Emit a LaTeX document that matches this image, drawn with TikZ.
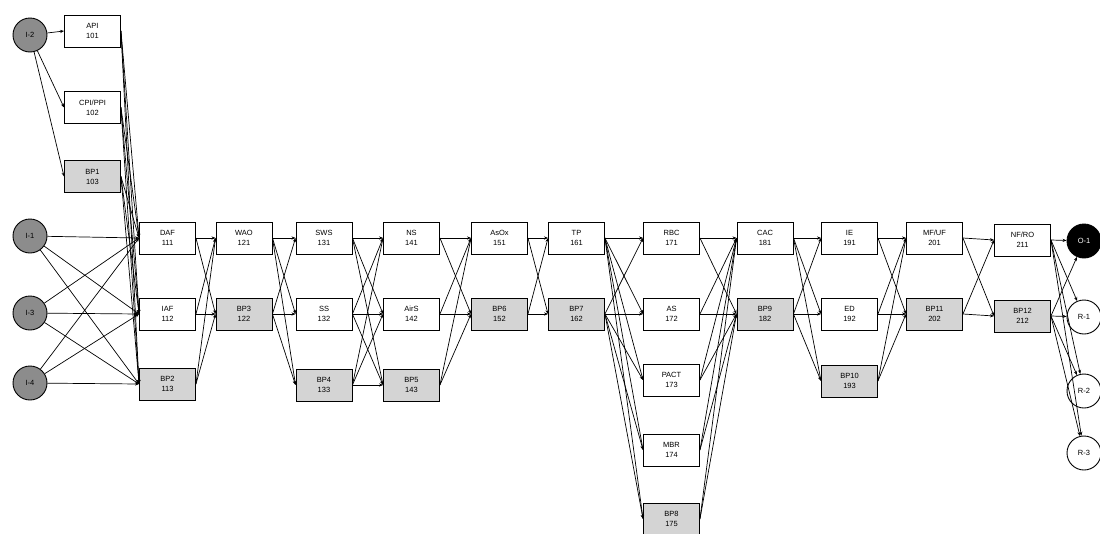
\documentclass[tikz,border=0pt]{standalone}
\usepackage{fontspec}
\setmainfont{Liberation Sans}
\usetikzlibrary{arrows.meta}
\tikzset{
  box/.style={draw=black,line width=0.9pt,fill=white,minimum width=56pt,minimum height=32pt,inner sep=1pt,align=center,font=\fontsize{7.5}{10}\selectfont},
  shbox/.style={box,fill=black!17},
  inode/.style={circle,draw=black,line width=0.9pt,fill=black!45,minimum size=34pt,inner sep=0pt,font=\fontsize{7.5}{8}\selectfont},
  onode/.style={circle,draw=black,line width=0.9pt,fill=black,text=white,minimum size=34pt,inner sep=0pt,font=\fontsize{7.5}{8}\selectfont},
  rnode/.style={circle,draw=black,line width=0.9pt,fill=white,minimum size=34pt,inner sep=0pt,font=\fontsize{7.5}{8}\selectfont},
  arr/.style={line width=0.7pt,-{Stealth[length=4pt,width=3.2pt]}}
}
\begin{document}
\begin{tikzpicture}[x=1pt,y=-1pt]
\useasboundingbox (0,0) rectangle (1100,533);
% nodes
\node[inode] (i2) at (30,35) {I-2};
\node[box] (api) at (92.5,31) {API\\101};
\node[box] (cpi) at (92.5,107.5) {CPI/PPI\\102};
\node[shbox] (bp1) at (92.5,176.5) {BP1\\103};
\node[inode] (i1) at (30,236) {I-1};
\node[inode] (i3) at (30,313) {I-3};
\node[inode] (i4) at (30,383) {I-4};
\node[box] (a111) at (167.5,238) {DAF\\111};
\node[box] (a112) at (167.5,314) {IAF\\112};
\node[shbox] (a113) at (167.5,384) {BP2\\113};
\node[box] (a121) at (244,238) {WAO\\121};
\node[shbox] (a122) at (244,314) {BP3\\122};
\node[box] (a131) at (324,238) {SWS\\131};
\node[box] (a132) at (324,314) {SS\\132};
\node[shbox] (a133) at (324,385) {BP4\\133};
\node[box] (a141) at (411.5,238) {NS\\141};
\node[box] (a142) at (411.5,314) {AirS\\142};
\node[shbox] (a143) at (411.5,385) {BP5\\143};
\node[box] (a151) at (499.5,238) {AsOx\\151};
\node[shbox] (a152) at (499.5,314) {BP6\\152};
\node[box] (a161) at (576.5,238) {TP\\161};
\node[shbox] (a162) at (576.5,314) {BP7\\162};
\node[box] (a171) at (671.5,238) {RBC\\171};
\node[box] (a172) at (671.5,314) {AS\\172};
\node[box] (a173) at (671.5,380) {PACT\\173};
\node[box] (a174) at (671.5,450) {MBR\\174};
\node[shbox] (a175) at (671.5,519) {BP8\\175};
\node[box] (a181) at (765,238) {CAC\\181};
\node[shbox] (a182) at (765,314) {BP9\\182};
\node[box] (a191) at (849.5,238) {IE\\191};
\node[box] (a192) at (849.5,314) {ED\\192};
\node[shbox] (a193) at (849.5,381) {BP10\\193};
\node[box] (a201) at (934.5,238) {MF/UF\\201};
\node[shbox] (a202) at (934.5,314) {BP11\\202};
\node[box] (a211) at (1022.5,240) {NF/RO\\211};
\node[shbox] (a212) at (1022.5,316) {BP12\\212};
\node[onode] (o1) at (1084,241) {O-1};
\node[rnode] (r1) at (1084,317) {R-1};
\node[rnode] (r2) at (1084,391) {R-2};
\node[rnode] (r3) at (1084,453) {R-3};
% connectors
\foreach \t in {api,cpi,bp1}{\draw[arr] (i2) -- (\t.west);}
\foreach \s in {i1,i3,i4}{\foreach \t in {a111,a112,a113}{\draw[arr] (\s) -- (\t.west);}}
\foreach \s in {api,cpi,bp1}{\foreach \t in {a111,a112,a113}{\draw[arr] (\s.east) -- (\t.west);}}
\foreach \s in {a111,a112,a113}{\foreach \t in {a121,a122}{\draw[arr] (\s.east) -- (\t.west);}}
\foreach \s in {a121,a122}{\foreach \t in {a131,a132,a133}{\draw[arr] (\s.east) -- (\t.west);}}
\foreach \s in {a131,a132,a133}{\foreach \t in {a141,a142,a143}{\draw[arr] (\s.east) -- (\t.west);}}
\foreach \s in {a141,a142,a143}{\foreach \t in {a151,a152}{\draw[arr] (\s.east) -- (\t.west);}}
\foreach \s in {a151,a152}{\foreach \t in {a161,a162}{\draw[arr] (\s.east) -- (\t.west);}}
\foreach \s in {a161,a162}{\foreach \t in {a171,a172,a173,a174,a175}{\draw[arr] (\s.east) -- (\t.west);}}
\foreach \s in {a171,a172,a173,a174,a175}{\foreach \t in {a181,a182}{\draw[arr] (\s.east) -- (\t.west);}}
\foreach \s in {a181,a182}{\foreach \t in {a191,a192,a193}{\draw[arr] (\s.east) -- (\t.west);}}
\foreach \s in {a191,a192,a193}{\foreach \t in {a201,a202}{\draw[arr] (\s.east) -- (\t.west);}}
\foreach \s in {a201,a202}{\foreach \t in {a211,a212}{\draw[arr] (\s.east) -- (\t.west);}}
\foreach \s in {a211,a212}{\foreach \t in {o1,r1,r2,r3}{\draw[arr] (\s.east) -- (\t);}}
\end{tikzpicture}
\end{document}
